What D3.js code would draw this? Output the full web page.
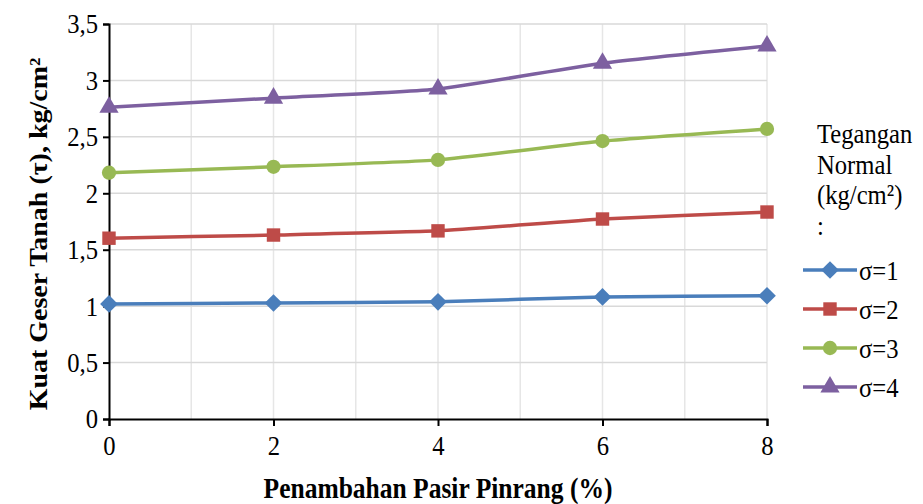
<!DOCTYPE html>
<html>
<head>
<meta charset="utf-8">
<script src="https://cdn.jsdelivr.net/npm/d3@7"></script>
<style>
  body { margin: 0; background: #fff; }
</style>
</head>
<body>
<div id="chart"></div>
<script>
// data
const xValues = [0, 2, 4, 6, 8];
const sigma1 = [1.02, 1.028, 1.038, 1.082, 1.092];
const sigma2 = [1.602, 1.63, 1.667, 1.772, 1.834];
const sigma3 = [2.182, 2.235, 2.296, 2.463, 2.57];
const sigma4 = [2.762, 2.843, 2.924, 3.152, 3.305];
const seriesNames = ["σ=1", "σ=2", "σ=3", "σ=4"];
const yTicks = [0, 0.5, 1, 1.5, 2, 2.5, 3, 3.5];
const xTicks = [0, 2, 4, 6, 8];

const width = 923, height = 504;
const margin = { top: 24, right: 156, bottom: 85, left: 109 };
const innerW = width - margin.left - margin.right;
const innerH = height - margin.top - margin.bottom;
const FONT = "'Liberation Serif', 'Times New Roman', serif";
const FS = 28;
const SX = 0.88; // text in the original is a bit narrow

const colors = ["#4A7EBB", "#BE4B48", "#98B954", "#7D60A0"];
const shapes = [d3.symbolDiamond2, d3.symbolSquare, d3.symbolCircle, d3.symbolTriangle];
const sizes = [200, 180, 160, 160];

const series = [sigma1, sigma2, sigma3, sigma4].map((vals, i) => ({
    name: seriesNames[i],
    color: colors[i],
    shape: shapes[i],
    size: sizes[i],
    points: vals.map((v, j) => ({ x: xValues[j], y: v }))
}));

const svg = d3.select("#chart").append("svg")
    .attr("width", width)
    .attr("height", height)
    .attr("font-family", FONT);

const g = svg.append("g")
    .attr("transform", `translate(${margin.left},${margin.top})`);

const x = d3.scaleLinear().domain([0, 8]).range([0, innerW]);
const y = d3.scaleLinear().domain([0, 3.5]).range([innerH, 0]);

// narrow text helper
function label(parent, tx, ty, str, opts = {}) {
    return parent.append("text")
        .attr("transform", `translate(${tx},${ty}) scale(${SX},1)`)
        .attr("font-size", opts.size || FS)
        .attr("font-weight", opts.bold ? "bold" : null)
        .attr("text-anchor", opts.anchor || "start")
        .text(str);
}

// vertical grid (every unit)
g.append("g").selectAll("line")
    .data(d3.range(1, 9))
    .enter().append("line")
    .attr("x1", d => x(d)).attr("x2", d => x(d))
    .attr("y1", 0).attr("y2", innerH)
    .attr("stroke", "#e6e6e6")
    .attr("stroke-width", 1.5);

// horizontal grid
g.append("g").selectAll("line")
    .data(yTicks.slice(1))
    .enter().append("line")
    .attr("x1", 0).attr("x2", innerW)
    .attr("y1", d => y(d)).attr("y2", d => y(d))
    .attr("stroke", "#d9d9d9")
    .attr("stroke-width", 1.5);

// axes
const xAxis = g.append("g")
    .attr("transform", `translate(0,${innerH})`)
    .call(d3.axisBottom(x).tickValues(xTicks).tickSize(7).tickPadding(8).tickFormat(d3.format("d")));
const yAxis = g.append("g")
    .call(d3.axisLeft(y).tickValues(yTicks).tickSize(6).tickPadding(5)
        .tickFormat(d => String(d).replace(".", ",")));

[xAxis, yAxis].forEach(ax => {
    ax.attr("font-family", FONT).attr("font-size", FS);
    ax.select(".domain").attr("stroke", "#000").attr("stroke-width", 2);
    ax.selectAll(".tick line").attr("stroke", "#000").attr("stroke-width", 2);
    ax.selectAll(".tick text").attr("fill", "#000");
});
xAxis.selectAll(".tick text").attr("dy", "0.75em")
    .attr("transform", `scale(${SX},1)`);
yAxis.selectAll(".tick text")
    .attr("transform", function () {
        const xo = +d3.select(this).attr("x");
        return `translate(${xo},0) scale(${SX},1)`;
    })
    .attr("x", 0);

// lines (excel-style smoothing, mild)
const line = d3.line()
    .x(d => x(d.x))
    .y(d => y(d.y))
    .curve(d3.curveCardinal.tension(0.5));

series.forEach(s => {
    g.append("path")
        .datum(s.points)
        .attr("d", line)
        .attr("fill", "none")
        .attr("stroke", s.color)
        .attr("stroke-width", 3.5);

    g.selectAll(null)
        .data(s.points)
        .enter().append("path")
        .attr("transform", d => `translate(${x(d.x)},${y(d.y)})`)
        .attr("d", d3.symbol().type(s.shape).size(s.size))
        .attr("fill", s.color);
});

// axis titles
label(svg, margin.left + innerW / 2, 498, "Penambahan Pasir Pinrang (%)",
    { bold: true, anchor: "middle", size: 29 });

svg.append("text")
    .attr("transform", `translate(47,234) rotate(-90) scale(1,${SX})`)
    .attr("text-anchor", "middle")
    .attr("font-size", 28)
    .attr("font-weight", "bold")
    .text("Kuat Geser Tanah (τ), kg/cm²");

// legend
["Tegangan", "Normal", "(kg/cm²)", ":"].forEach((t, i) => {
    label(svg, 817, 143 + i * 30.5, t);
});

series.forEach((s, i) => {
    const ly = 270 + i * 39;
    const item = svg.append("g").attr("transform", `translate(0,${ly})`);
    item.append("line")
        .attr("x1", 803).attr("x2", 857)
        .attr("y1", 0).attr("y2", 0)
        .attr("stroke", s.color)
        .attr("stroke-width", 3.5);
    item.append("path")
        .attr("transform", "translate(830,0)")
        .attr("d", d3.symbol().type(s.shape).size(s.size))
        .attr("fill", s.color);
    label(item, 859, 10, s.name);
});
</script>
</body>
</html>
